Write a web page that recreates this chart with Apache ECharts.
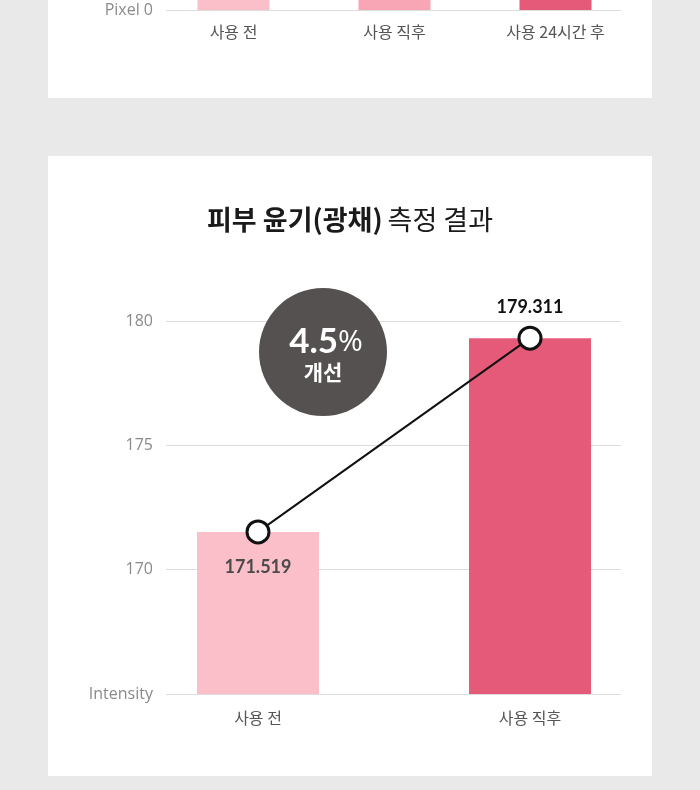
<!DOCTYPE html>
<html>
<head>
<meta charset="utf-8">
<script src="https://cdn.jsdelivr.net/npm/echarts@6/dist/echarts.min.js"></script>
<style>
  html, body { margin: 0; padding: 0; background: #e9e9e9; }
  #main { width: 700px; height: 790px; }
</style>
</head>
<body>
<div id="main"></div>
<script>
 // 데이터
 var topCategories = ['사용 전', '사용 직후', '사용 24시간 후'];
 var topValues = [60, 75, 90]; // 윗부분 잘림, 값은 보이지 않음
 var topColors = ['#fbbfca', '#f8a5b6', '#e45a78'];

 var categories = ['사용 전', '사용 직후'];
 var glossValues = [171.519, 179.311];
 var barColors = ['#fbbfca', '#e45a78'];
 var yTicks = [165, 170, 175, 180];
 var improvement = '4.5';

 var myChart = echarts.init(document.getElementById('main'));
 var numFont = '"Open Sans", Lato, sans-serif';
 var valFont = 'Lato, "Open Sans", sans-serif';
 var krFont = '"Noto Sans CJK KR", sans-serif';

 var option = {
   backgroundColor: '#e9e9e9',
   animation: false,
   title: {
     text: '{b|피부 윤기(광채)} {n|측정 결과}',
     left: 'center',
     top: 201,
     textStyle: {
       rich: {
         b: { fontFamily: krFont, fontSize: 27, fontWeight: 'bold', color: '#1a1a1a' },
         n: { fontFamily: krFont, fontSize: 27, fontWeight: 'normal', color: '#1a1a1a' }
       }
     }
   },
   graphic: [
     { type: 'rect', z: -10, shape: { x: 48, y: -10, width: 604, height: 108 }, style: { fill: '#fff' } },
     { type: 'rect', z: -10, shape: { x: 48, y: 156, width: 604, height: 620 }, style: { fill: '#fff' } },
     { type: 'circle', z: 100, shape: { cx: 323, cy: 352, r: 64 }, style: { fill: '#545150' } },
     {
       type: 'text', z: 101, x: 326, y: 342,
       style: {
         text: '{a|' + improvement + '}{p|%}',
         align: 'center', verticalAlign: 'middle',
         rich: {
           a: { fontFamily: valFont, fontSize: 35, fontWeight: 'bold', fill: '#fff' },
           p: { fontFamily: numFont, fontSize: 30, fontWeight: 'normal', fill: '#fff' }
         }
       }
     },
     {
       type: 'text', z: 101, x: 323, y: 372,
       style: { text: '개선', align: 'center', verticalAlign: 'middle', fontFamily: krFont, fontSize: 21, fontWeight: 'bold', fill: '#fff' }
     }
   ],
   grid: [
     // 아래 차트: 막대
     { left: 122, width: 544, top: 321, height: 373 },
     // 아래 차트: 축
     { left: 166, width: 455, top: 321, height: 373 },
     // 위 차트: 막대 (윗부분은 화면 밖)
     { left: 153, width: 483, top: 0, height: 10 },
     // 위 차트: 축
     { left: 166, width: 455, top: 0, height: 10 }
   ],
   xAxis: [
     {
       gridIndex: 0, type: 'category', data: categories,
       axisLine: { show: false }, axisTick: { show: false },
       axisLabel: { margin: 16, fontFamily: krFont, fontSize: 16, color: '#555' }
     },
     { gridIndex: 1, type: 'category', data: categories, show: false },
     {
       gridIndex: 2, type: 'category', data: topCategories,
       axisLine: { show: false }, axisTick: { show: false },
       axisLabel: { margin: 14, fontFamily: krFont, fontSize: 16, color: '#555' }
     },
     { gridIndex: 3, type: 'category', data: topCategories, show: false }
   ],
   yAxis: [
     { gridIndex: 0, type: 'value', min: 165, max: 180, show: false },
     {
       gridIndex: 1, type: 'value', min: yTicks[0], max: yTicks[yTicks.length - 1], interval: 5,
       axisLine: { show: false }, axisTick: { show: false },
       axisLabel: {
         margin: 13, fontFamily: numFont, fontSize: 16, color: '#8a8a8a',
         formatter: function(v) { return v === yTicks[0] ? 'Intensity' : v; }
       },
       splitLine: { lineStyle: { color: '#dcdcdc', width: 1 } }
     },
     { gridIndex: 2, type: 'value', min: 0, max: 10, show: false },
     {
       gridIndex: 3, type: 'value', min: 0, max: 10, interval: 10,
       axisLine: { show: false }, axisTick: { show: false },
       axisLabel: {
         margin: 13, fontFamily: numFont, fontSize: 16, color: '#8a8a8a',
         showMaxLabel: false,
         formatter: function(v) { return v === 0 ? 'Pixel 0' : ''; }
       },
       splitLine: { showMaxLine: false, lineStyle: { color: '#dcdcdc', width: 1 } }
     }
   ],
   series: [
     {
       type: 'bar', xAxisIndex: 0, yAxisIndex: 0, barWidth: 122,
       data: glossValues.map(function(v, i) {
         return { value: v, itemStyle: { color: barColors[i] } };
       })
     },
     {
       type: 'line', xAxisIndex: 0, yAxisIndex: 0, z: 5,
       symbol: 'circle', symbolSize: 22,
       itemStyle: { color: '#fff', borderColor: '#111', borderWidth: 3 },
       lineStyle: { color: '#111', width: 2 },
       data: [
         {
           value: glossValues[0],
           label: { show: true, position: 'bottom', distance: 14, fontFamily: valFont, fontSize: 18, fontWeight: 'bold', color: '#4a4a4a' }
         },
         {
           value: glossValues[1],
           label: { show: true, position: 'top', distance: 9, fontFamily: valFont, fontSize: 18, fontWeight: 'bold', color: '#111' }
         }
       ]
     },
     {
       type: 'bar', xAxisIndex: 2, yAxisIndex: 2, barWidth: 72, clip: true,
       data: topValues.map(function(v, i) {
         return { value: v, itemStyle: { color: topColors[i] } };
       })
     }
   ]
 };

 myChart.setOption(option);
</script>
</body>
</html>
